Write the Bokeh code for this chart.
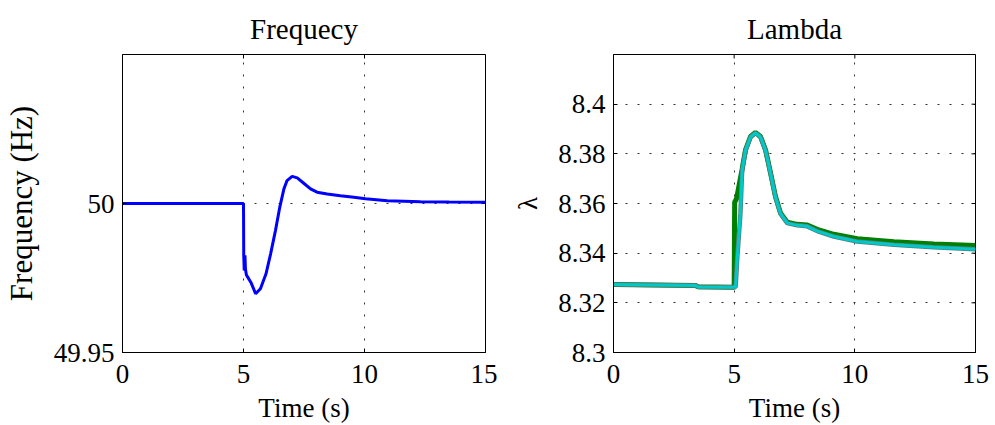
import math
from bokeh.plotting import figure
from bokeh.layouts import row
from bokeh.models import Range1d, FixedTicker
from bokeh.embed import file_html
from bokeh.resources import INLINE

# Grid frequency response to the load step at t = 5 s
freq_time = [0.0, 2.5, 4.99, 5.0, 5.01, 5.03, 5.06, 5.08, 5.12, 5.22, 5.32, 5.5,
             5.7, 5.93, 6.12, 6.32, 6.5, 6.67, 6.8, 7.01, 7.22, 7.49, 7.77, 8.04,
             8.46, 9.0, 9.56, 10.04, 10.94, 12.31, 13.5, 15.0]
freq_hz = [50.0, 50.0, 50.0, 50.0, 49.9826, 49.9775, 49.9826, 49.978, 49.976,
           49.9747, 49.9733, 49.9697, 49.9714, 49.9764, 49.9831, 49.9909,
           49.9988, 50.0049, 50.0077, 50.0091, 50.0086, 50.0068, 50.0049,
           50.0038, 50.0032, 50.0026, 50.0021, 50.0016, 50.0009, 50.0006,
           50.0005, 50.0004]

# Tip-speed ratio of the turbines
lam_time_a = [0.0, 3.4, 3.5, 4.99, 5.0, 5.02, 5.1, 5.33, 5.47, 5.68, 5.88, 6.09,
              6.3, 6.51, 6.71, 6.92, 7.2, 7.61, 8.03, 8.44, 9.13, 10.1, 11.62,
              13.27, 15.0]
lam_a = [8.3274, 8.3270, 8.3265, 8.3263, 8.3263, 8.3605, 8.3620, 8.3738, 8.3816,
         8.3870, 8.3886, 8.3870, 8.3816, 8.3722, 8.3629, 8.3562, 8.3525, 8.3516,
         8.3513, 8.3496, 8.3476, 8.3458, 8.3446, 8.3437, 8.3431]

lam_time_b = [0.0, 3.4, 3.5, 5.0, 5.06, 5.13, 5.26, 5.33, 5.47, 5.68, 5.88, 6.09,
              6.3, 6.51, 6.71, 6.92, 7.2, 7.61, 8.03, 8.44, 9.13, 10.1, 11.62,
              13.27, 15.0]
lam_b = [8.3274, 8.3270, 8.3264, 8.3263, 8.3263, 8.3384, 8.3560, 8.3733, 8.3814,
         8.3868, 8.3884, 8.3868, 8.3814, 8.3720, 8.3626, 8.3559, 8.3521, 8.3512,
         8.3508, 8.3489, 8.3467, 8.3447, 8.3434, 8.3424, 8.3416]

x_ticks = [0, 5, 10, 15]
freq_ticks = [49.95, 50.0]
lam_ticks = [8.3, 8.32, 8.34, 8.36, 8.38, 8.4]

FONT = "Liberation Serif"
TICK_FONT = '"Liberation Serif", serif'
FS = "27px"


def make_fig(title, width, border_left, border_right, y0, y1, y_ticks, y_grid,
             y_label, y_label_size):
    p = figure(width=width, height=425, output_backend="svg", toolbar_location=None,
               x_range=Range1d(0, 15), y_range=Range1d(y0, y1),
               min_border_left=border_left, min_border_right=border_right,
               min_border_top=53, min_border_bottom=73)
    p.title.text = title
    p.title.align = "center"
    p.title.text_font = FONT
    p.title.text_font_size = "29px"
    p.title.text_font_style = "normal"
    p.title.text_color = "black"
    p.title.standoff = 20
    p.background_fill_color = "white"
    p.border_fill_color = "white"
    p.outline_line_color = "black"
    p.outline_line_width = 1
    p.outline_line_alpha = 1

    bottom = p.below[0]
    left = p.left[0]
    bottom.ticker = FixedTicker(ticks=x_ticks)
    left.ticker = FixedTicker(ticks=y_ticks)
    for ax in (bottom, left):
        ax.major_tick_in = 4
        ax.major_tick_out = 0
        ax.minor_tick_line_color = None
        ax.axis_line_color = "black"
        ax.major_tick_line_color = "black"
        ax.major_label_text_font = TICK_FONT
        ax.major_label_text_font_size = FS
        ax.major_label_text_font_style = "normal"
        ax.major_label_text_color = "black"
        ax.axis_label_text_font = FONT
        ax.axis_label_text_font_style = "normal"
        ax.axis_label_text_color = "black"
    bottom.axis_label = "Time (s)"
    bottom.axis_label_text_font_size = FS
    bottom.major_label_standoff = 12
    bottom.axis_label_standoff = 7
    left.axis_label = y_label
    left.axis_label_text_font_size = y_label_size
    left.major_label_standoff = 8
    left.axis_label_standoff = 12

    # inward tick marks along the top and right edges of the box
    p.scatter(x_ticks, [y1] * len(x_ticks), marker="dash", angle=math.pi / 2,
              size=8, line_color="black", line_width=1)
    p.scatter([15] * len(y_ticks), y_ticks, marker="dash", size=8,
              line_color="black", line_width=1)

    p.xgrid.ticker = FixedTicker(ticks=[5, 10])
    p.ygrid.ticker = FixedTicker(ticks=y_grid)
    for g in (p.xgrid[0], p.ygrid[0]):
        g.grid_line_color = "#333333"
        g.grid_line_dash = "2 10"
        g.grid_line_width = 1
    return p


p1 = make_fig("Frequecy", 497, 122, 12, 49.95, 50.05, freq_ticks, [50.0],
              "Frequency (Hz)", "31px")
p1.line(freq_time, freq_hz, line_color="#0000ff", line_width=3)

p2 = make_fig("Lambda", 498, 116, 20, 8.3, 8.42, lam_ticks,
              [8.32, 8.34, 8.36, 8.38, 8.4], "λ", "27px")
p2.line(lam_time_a, lam_a, line_color="#007f00", line_width=5)
p2.line(lam_time_b, lam_b, line_color="#4f7f80", line_width=4.5)
p2.line(lam_time_b, lam_b, line_color="#00c8c8", line_width=3)

layout = row(p1, p2)
open("out.html", "w").write(file_html(layout, INLINE))
